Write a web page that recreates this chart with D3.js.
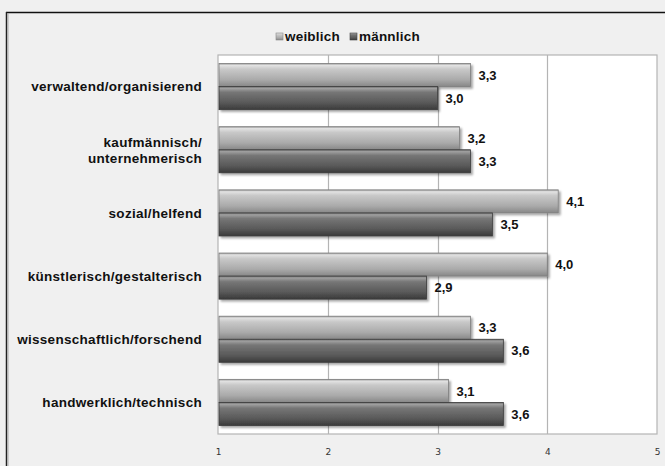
<!DOCTYPE html>
<html>
<head>
<meta charset="utf-8">
<script src="https://cdn.jsdelivr.net/npm/d3@7"></script>
<style>
  html, body { margin: 0; padding: 0; background: #f0f0f0; }
  svg { display: block; }
</style>
</head>
<body>
<script>
// Interessensbereiche nach Geschlecht (Mittelwerte, Skala 1–5)
const categories = [
  "verwaltend/organisierend",
  "kaufmännisch/\nunternehmerisch",
  "sozial/helfend",
  "künstlerisch/gestalterisch",
  "wissenschaftlich/forschend",
  "handwerklich/technisch"
];
const weiblich = [3.3, 3.2, 4.1, 4.0, 3.3, 3.1];
const maennlich = [3.0, 3.3, 3.5, 2.9, 3.6, 3.6];
const seriesNames = ["weiblich", "männlich"];
const xTicks = [1, 2, 3, 4, 5];

const W = 665, H = 466;
const margin = { left: 218, right: 8, top: 55, bottom: 32 };
const labelFont = "Liberation Sans, Arial, sans-serif";

const svg = d3.select("body").append("svg").attr("width", W).attr("height", H);
const defs = svg.append("defs");

// bevelled gradients for the two series
function barGradient(id, stops) {
  const g = defs.append("linearGradient").attr("id", id)
    .attr("x1", 0).attr("y1", 0).attr("x2", 0).attr("y2", 1);
  stops.forEach(([o, c]) => g.append("stop").attr("offset", o).attr("stop-color", c));
}
barGradient("gW", [[0, "#9a9a9a"], [0.08, "#e2e2e2"], [0.25, "#c8c8c8"], [0.7, "#aaaaaa"], [1, "#878787"]]);
barGradient("gM", [[0, "#6a6a6a"], [0.08, "#a0a0a0"], [0.25, "#767676"], [0.7, "#595959"], [1, "#3a3a3a"]]);

const shadow = defs.append("filter").attr("id", "shadow")
  .attr("x", "-5%").attr("y", "-20%").attr("width", "115%").attr("height", "160%");
shadow.append("feDropShadow").attr("dx", 2).attr("dy", 2).attr("stdDeviation", 1.2)
  .attr("flood-color", "#000").attr("flood-opacity", 0.35);

// outer frame
svg.append("rect").attr("x", 0).attr("y", 0).attr("width", W).attr("height", H).attr("fill", "#f0f0f0");
svg.append("line").attr("x1", 6).attr("x2", W).attr("y1", 12.5).attr("y2", 12.5)
  .attr("stroke", "#111").attr("stroke-width", 1.5);
svg.append("line").attr("x1", 6.5).attr("x2", 6.5).attr("y1", 12).attr("y2", H)
  .attr("stroke", "#222").attr("stroke-width", 1.5);
svg.append("line").attr("x1", 8).attr("x2", 8).attr("y1", 13).attr("y2", H)
  .attr("stroke", "#aaa").attr("stroke-width", 1);

const x = d3.scaleLinear().domain([1, 5]).range([margin.left, W - margin.right]);
const y0 = d3.scaleBand().domain(categories).range([margin.top, H - margin.bottom])
  .paddingInner(0.27).paddingOuter(0.135);
const y1 = d3.scaleBand().domain(seriesNames).range([0, y0.bandwidth()]).padding(0);

// plot area
svg.append("rect")
  .attr("x", x(1)).attr("y", margin.top)
  .attr("width", x(5) - x(1)).attr("height", H - margin.bottom - margin.top)
  .attr("fill", "#fff").attr("stroke", "#b4b4b4").attr("stroke-width", 1.2);

// vertical gridlines
svg.append("g").selectAll("line").data(xTicks.slice(1, -1)).join("line")
  .attr("x1", d => Math.round(x(d)) + 0.5).attr("x2", d => Math.round(x(d)) + 0.5)
  .attr("y1", margin.top).attr("y2", H - margin.bottom)
  .attr("stroke", "#b4b4b4").attr("stroke-width", 1.2);

// x axis labels
const xAxis = d3.axisBottom(x).tickValues(xTicks).tickFormat(d3.format("d"))
  .tickSize(0).tickPadding(15);
const gx = svg.append("g").attr("transform", `translate(0,${H - margin.bottom})`).call(xAxis);
gx.select(".domain").remove();
gx.selectAll("text").attr("font-family", "DejaVu Sans, sans-serif").attr("font-size", 9)
  .attr("fill", "#333");

// bars
const data = categories.map((c, i) => ({ cat: c, vals: [
  { s: "weiblich", v: weiblich[i] }, { s: "männlich", v: maennlich[i] }
]}));

const groups = svg.append("g").selectAll("g").data(data).join("g")
  .attr("transform", d => `translate(0,${y0(d.cat)})`);

groups.selectAll("rect").data(d => d.vals).join("rect")
  .attr("x", x(1) + 1)
  .attr("y", d => y1(d.s))
  .attr("width", d => x(d.v) - x(1) - 1)
  .attr("height", y1.bandwidth())
  .attr("fill", d => d.s === "weiblich" ? "url(#gW)" : "url(#gM)")
  .attr("stroke", d => d.s === "weiblich" ? "#7d7d7d" : "#3a3a3a")
  .attr("stroke-width", 0.8)
  .attr("filter", "url(#shadow)");

// value labels
const fmt = v => d3.format(".1f")(v).replace(".", ",");
groups.selectAll("text").data(d => d.vals).join("text")
  .attr("x", d => x(d.v) + 8)
  .attr("y", d => y1(d.s) + y1.bandwidth() / 2)
  .attr("dy", "0.36em")
  .attr("font-family", labelFont)
  .attr("font-weight", "bold").attr("font-size", 13).attr("fill", "#111")
  .text(d => fmt(d.v));

// category labels
const yLabels = svg.append("g").selectAll("text").data(categories).join("text")
  .attr("text-anchor", "end")
  .attr("x", 202)
  .attr("y", d => y0(d) + y0.bandwidth() / 2)
  .attr("font-family", labelFont)
  .attr("font-weight", "bold").attr("font-size", 13.5)
  .attr("letter-spacing", 0.3).attr("fill", "#111");
yLabels.each(function(d) {
  const lines = d.split("\n");
  const t = d3.select(this);
  lines.forEach((ln, i) => {
    t.append("tspan").attr("x", 202)
      .attr("dy", i === 0 ? `${0.36 - (lines.length - 1) * 0.6}em` : "1.2em")
      .text(ln);
  });
});

// legend
const legend = svg.append("g").attr("transform", "translate(276,36)");
const legendItems = [{ s: "weiblich", x: 0 }, { s: "männlich", x: 74 }];
legendItems.forEach(it => {
  legend.append("rect").attr("x", it.x).attr("y", -3).attr("width", 7).attr("height", 7)
    .attr("fill", it.s === "weiblich" ? "url(#gW)" : "url(#gM)")
    .attr("stroke", it.s === "weiblich" ? "#888" : "#444").attr("stroke-width", 0.6);
  legend.append("text").attr("x", it.x + 9).attr("y", 0).attr("dy", "0.36em")
    .attr("font-family", labelFont)
    .attr("font-weight", "bold").attr("font-size", 13.5).attr("letter-spacing", 0.2)
    .attr("fill", "#111")
    .text(it.s);
});
</script>
</body>
</html>
